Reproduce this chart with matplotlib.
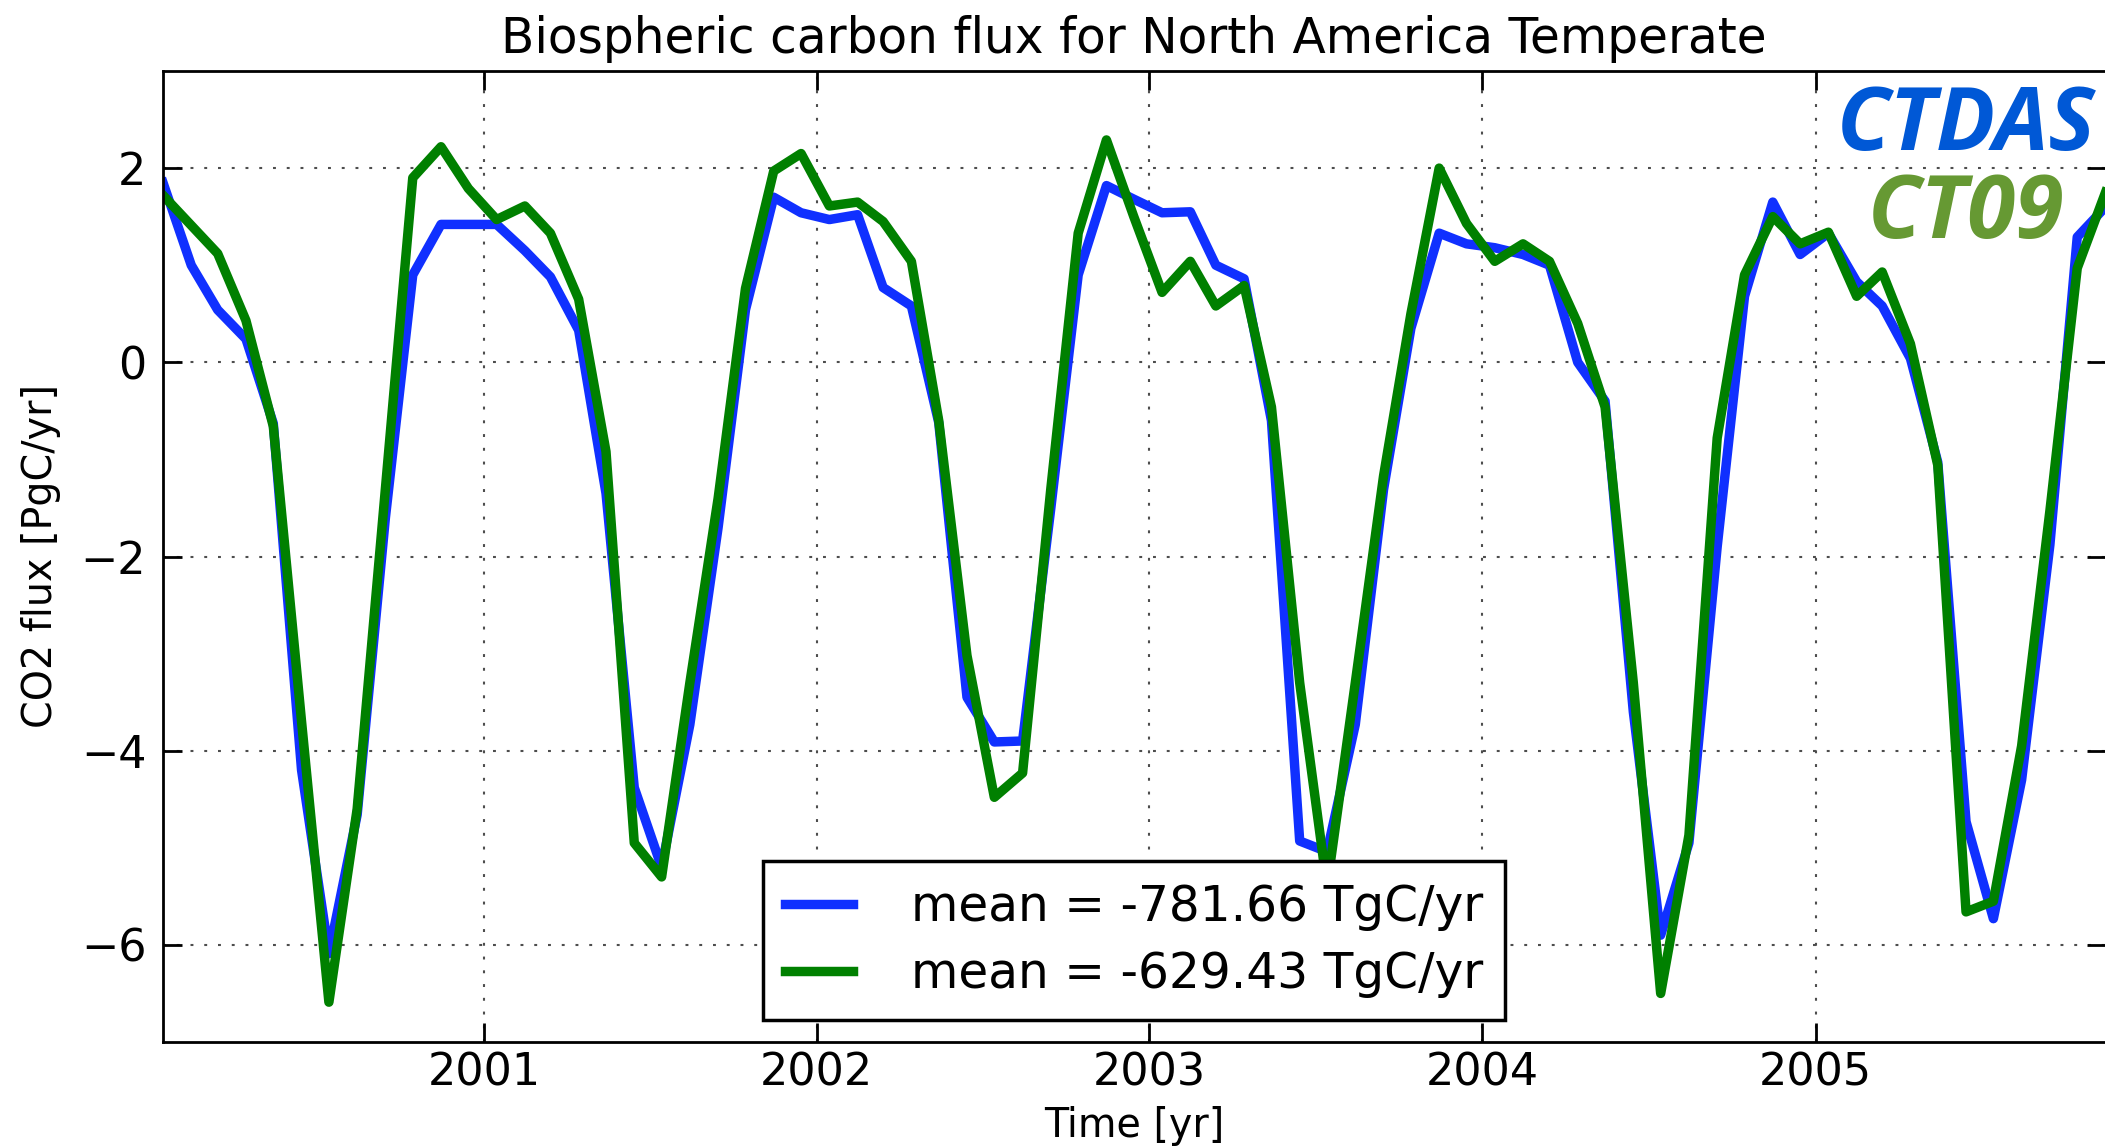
import numpy as np
import pandas as pd
import matplotlib
matplotlib.use("Agg")
import matplotlib.pyplot as plt
import matplotlib.dates as mdates

# monthly flux, Jan 2000 .. Nov 2005 (PgC/yr)
months = pd.date_range("2000-01-01", "2005-11-01", freq="MS") + pd.Timedelta(days=14)

ctdas = [1.85, 1.00, 0.54, 0.24, -0.63, -4.20, -6.09, -4.66, -1.60, 0.90, 1.42, 1.42,
         1.42, 1.15, 0.88, 0.33, -1.35, -4.38, -5.20, -3.73, -1.70, 0.54, 1.70, 1.54,
         1.47, 1.52, 0.77, 0.58, -0.62, -3.45, -3.91, -3.90, -1.50, 0.90, 1.82, 1.68,
         1.54, 1.55, 1.00, 0.86, -0.60, -4.93, -5.04, -3.73, -1.31, 0.35, 1.33, 1.22,
         1.18, 1.11, 1.00, 0.00, -0.40, -3.60, -5.90, -4.95, -1.90, 0.68, 1.65, 1.11,
         1.33, 0.83, 0.58, 0.04, -1.03, -4.73, -5.73, -4.30, -1.88, 1.29, 1.60]
ct09 = [1.72, 1.41, 1.12, 0.43, -0.66, -3.70, -6.59, -4.60, -1.30, 1.90, 2.22, 1.79,
        1.47, 1.61, 1.33, 0.65, -0.92, -4.95, -5.30, -3.30, -1.40, 0.76, 1.97, 2.15,
        1.61, 1.65, 1.45, 1.04, -0.60, -3.02, -4.48, -4.23, -1.30, 1.33, 2.29, 1.50,
        0.72, 1.04, 0.58, 0.79, -0.46, -3.30, -5.40, -3.30, -1.17, 0.50, 2.00, 1.43,
        1.04, 1.22, 1.04, 0.40, -0.46, -3.30, -6.50, -4.87, -0.78, 0.90, 1.50, 1.22,
        1.34, 0.68, 0.93, 0.19, -1.06, -5.66, -5.55, -3.95, -1.53, 0.97, 1.75]
labels = ["mean = -781.66 TgC/yr", "mean = -629.43 TgC/yr"]

W, H = 2105, 1146
fig = plt.figure(figsize=(W / 100, H / 100), dpi=100)
ax = fig.add_axes([163 / W, 1 - 1042 / H, (W + 0.5 - 163) / W, (1042 - 71) / H])

ax.plot(months, ctdas, color="#1030ff", lw=6.8, label=labels[0])
ax.plot(months, ct09, color="#008000", lw=6.8, label=labels[1])

ax.set_xlim(months[0], months[-1])
ax.set_ylim(-7, 3)
ax.set_yticks([-6, -4, -2, 0, 2])
ax.xaxis.set_major_locator(mdates.YearLocator())
ax.xaxis.set_major_formatter(mdates.DateFormatter("%Y"))

ax.grid(True, color="0.3", lw=1.5, linestyle=(0, (1.4, 5.2)))
ax.tick_params(direction="in", length=14, width=2, top=True, right=True, labelsize=32)
ax.tick_params(axis="x", pad=7)
ax.tick_params(axis="y", pad=12)
for s in ax.spines.values():
    s.set_linewidth(2)

ax.set_title("Biospheric carbon flux for North America Temperate", fontsize=35, pad=13)
ax.set_xlabel("Time [yr]", fontsize=28.5, labelpad=8)
ax.set_ylabel("CO2 flux [PgC/yr]", fontsize=28.5, labelpad=14)

leg = ax.legend(loc="lower center", fontsize=35, fancybox=False, framealpha=1,
                edgecolor="black", handlelength=1.4, handletextpad=1.2,
                borderpad=0.45, labelspacing=0.4, borderaxespad=0.45)
leg.get_frame().set_linewidth(2.5)

fig.text(1966 / W, 1 - 150 / H, "CTDAS", color="#0058d6", fontsize=63,
         family="Open Sans", weight="bold", style="italic", ha="center", va="baseline")
fig.text(1966 / W, 1 - 238 / H, "CT09", color="#669933", fontsize=63,
         family="Open Sans", weight="bold", style="italic", ha="center", va="baseline")

fig.savefig("out.png", dpi=100)
